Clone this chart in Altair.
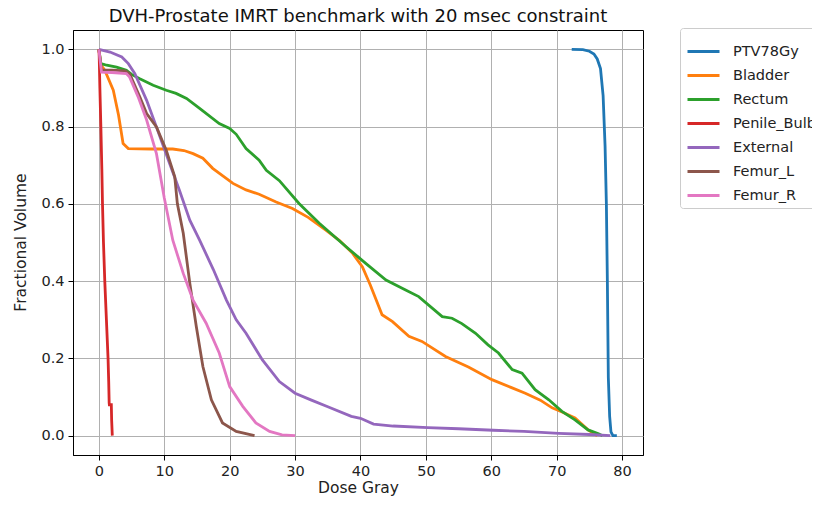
import altair as alt
import pandas as pd

# ---- data ----
names = ["PTV78Gy", "Bladder", "Rectum", "Penile_Bulb", "External", "Femur_L", "Femur_R"]
colors = ["#1f77b4", "#ff7f0e", "#2ca02c", "#d62728", "#9467bd", "#8c564b", "#e377c2"]

ptv_dose = [72.3, 74.0, 75.0, 75.7, 76.2, 76.7, 77.1, 77.4, 77.6, 77.75, 77.9, 78.1, 78.3, 78.6, 79.2]
ptv_vol = [1.0, 0.999, 0.995, 0.988, 0.975, 0.95, 0.88, 0.75, 0.6, 0.4, 0.15, 0.05, 0.01, 0.0, 0.0]

bladder_dose = [0, 0.3, 0.9, 2.2, 3.0, 3.7, 4.5, 8.0, 11.3, 13.0, 14.4, 15.9, 17.4, 20.5, 22.5,
                24.5, 27.1, 29.6, 32.0, 34.7, 36.8, 38.8, 40.3, 41.5, 43.3, 44.9, 47.4, 49.4,
                53.0, 56.5, 60.1, 63.0, 65.2, 67.5, 69.3, 71.0, 72.8, 74.8, 75.9, 76.2]
bladder_vol = [1.0, 0.96, 0.946, 0.894, 0.83, 0.756, 0.743, 0.742, 0.742, 0.738, 0.730, 0.718,
               0.692, 0.653, 0.636, 0.625, 0.605, 0.588, 0.565, 0.532, 0.505, 0.472, 0.437, 0.39,
               0.313, 0.295, 0.257, 0.244, 0.205, 0.178, 0.145, 0.125, 0.110, 0.092, 0.072, 0.06,
               0.046, 0.015, 0.003, 0.0]

rectum_dose = [0, 0.3, 1.0, 2.7, 4.2, 5.0, 6.25, 8.3, 10.3, 11.8, 13.4, 15.4, 18.4, 20.0, 21.0,
               22.5, 24.5, 25.6, 27.6, 30.6, 33.7, 37.8, 40.8, 43.9, 46.9, 48.9, 52.5, 54.0, 55.5,
               57.6, 59.5, 61.1, 63.2, 64.7, 66.7, 68.8, 70.8, 72.8, 74.8, 76.4, 77.0]
rectum_vol = [1.0, 0.963, 0.96, 0.954, 0.946, 0.935, 0.924, 0.907, 0.894, 0.886, 0.873, 0.847,
              0.808, 0.795, 0.78, 0.743, 0.713, 0.687, 0.66, 0.601, 0.550, 0.489, 0.446, 0.403,
              0.377, 0.360, 0.308, 0.304, 0.29, 0.265, 0.235, 0.214, 0.171, 0.162, 0.119, 0.093,
              0.063, 0.041, 0.015, 0.005, 0.0]

penile_dose = [0, 0.05, 0.15, 0.3, 0.45, 0.55, 0.7, 0.9, 1.15, 1.4, 1.5, 1.57, 1.6, 1.9, 1.95, 2.05]
penile_vol = [1.0, 0.98, 0.9, 0.8, 0.69, 0.6, 0.5, 0.4, 0.3, 0.2, 0.14, 0.085, 0.08, 0.08, 0.04, 0.0]

external_dose = [0, 1.7, 3.5, 4.5, 5.5, 7.3, 8.8, 10.8, 12.3, 13.9, 15.4, 17.5, 19.5, 21.0, 22.5,
                 25.0, 27.6, 30.0, 32.5, 35.0, 38.6, 40.0, 42.0, 45.0, 50.3, 55.0, 60.3, 65.0,
                 70.3, 75.0, 78.2]
external_vol = [1.0, 0.993, 0.980, 0.963, 0.937, 0.868, 0.799, 0.705, 0.636, 0.558, 0.506, 0.43,
                0.351, 0.30, 0.265, 0.196, 0.140, 0.11, 0.092, 0.075, 0.05, 0.045, 0.03, 0.025,
                0.021, 0.018, 0.014, 0.011, 0.006, 0.003, 0.0]

femur_l_dose = [0, 0.4, 2.0, 4.0, 4.7, 6.25, 7.3, 8.8, 10.3, 11.6, 12.0, 12.9, 13.9, 14.9, 15.9,
                17.2, 18.9, 21.0, 23.8]
femur_l_vol = [1.0, 0.946, 0.946, 0.944, 0.937, 0.877, 0.834, 0.799, 0.739, 0.670, 0.600, 0.524,
               0.395, 0.282, 0.179, 0.093, 0.033, 0.011, 0.0]

femur_r_dose = [0, 0.4, 2.0, 4.2, 4.7, 6.0, 7.3, 8.8, 10.0, 11.3, 12.9, 14.4, 16.4, 18.4, 20.0,
                22.0, 24.0, 26.1, 28.0, 30.0]
femur_r_vol = [1.0, 0.941, 0.94, 0.937, 0.928, 0.877, 0.817, 0.730, 0.615, 0.506, 0.420, 0.351,
               0.291, 0.214, 0.127, 0.076, 0.033, 0.011, 0.002, 0.0]

x_ticks = [0, 10, 20, 30, 40, 50, 60, 70, 80]
y_ticks = [0.0, 0.2, 0.4, 0.6, 0.8, 1.0]

series = [
    (names[0], ptv_dose, ptv_vol),
    (names[1], bladder_dose, bladder_vol),
    (names[2], rectum_dose, rectum_vol),
    (names[3], penile_dose, penile_vol),
    (names[4], external_dose, external_vol),
    (names[5], femur_l_dose, femur_l_vol),
    (names[6], femur_r_dose, femur_r_vol),
]

rows = []
for name, ds, vs in series:
    for i, (d, v) in enumerate(zip(ds, vs)):
        rows.append({"structure": name, "dose": d, "volume": v, "idx": i})
df = pd.DataFrame(rows)

FONT = "DejaVu Sans"

chart = alt.Chart(df).mark_line(strokeWidth=2.8, clip=True).encode(
    x=alt.X("dose:Q",
            scale=alt.Scale(domain=[-3.96, 83.2], nice=False, zero=False),
            axis=alt.Axis(values=x_ticks, title="Dose Gray", format="d",
                          titleX=285, titleY=32, titleBaseline="middle", titleAlign="center")),
    y=alt.Y("volume:Q",
            scale=alt.Scale(domain=[-0.05, 1.05], nice=False, zero=False),
            axis=alt.Axis(values=y_ticks, title="Fractional Volume", format=".1f",
                          titleX=-53, titleY=212, titleBaseline="middle", titleAlign="center",
                          titleAngle=270)),
    color=alt.Color("structure:N",
                    scale=alt.Scale(domain=names, range=colors),
                    legend=alt.Legend(title=None, orient="none", legendX=607, legendY=-2,
                                      symbolType="stroke", symbolSize=1024, symbolStrokeWidth=2.8,
                                      labelFontSize=14.5, labelFont=FONT, labelColor="#222222",
                                      labelOffset=12, labelLimit=300, rowPadding=-1,
                                      strokeColor="#cccccc", fillColor="white", padding=6,
                                      cornerRadius=3)),
    order=alt.Order("idx:Q"),
).properties(
    width=570,
    height=425,
    autosize=alt.AutoSizeParams(type="none"),
    padding={"left": 65, "top": 22, "right": 169, "bottom": 42},
    title=alt.TitleParams("DVH-Prostate IMRT benchmark with 20 msec constraint",
                          fontSize=18, fontWeight="normal", font=FONT, color="#111111",
                          anchor="middle", frame="group", offset=2),
).configure_view(
    stroke="black", strokeWidth=1
).configure_axis(
    domainColor="black", tickColor="black", tickSize=5, tickWidth=1,
    gridColor="#b0b0b0", gridWidth=1, labelColor="#222222", titleColor="#222222",
    labelFontSize=14.5, titleFontSize=15.5, labelFont=FONT, titleFont=FONT,
    titleFontWeight="normal", labelPadding=4
)

chart.save("out.html", embed_options={"renderer": "svg", "actions": False})
